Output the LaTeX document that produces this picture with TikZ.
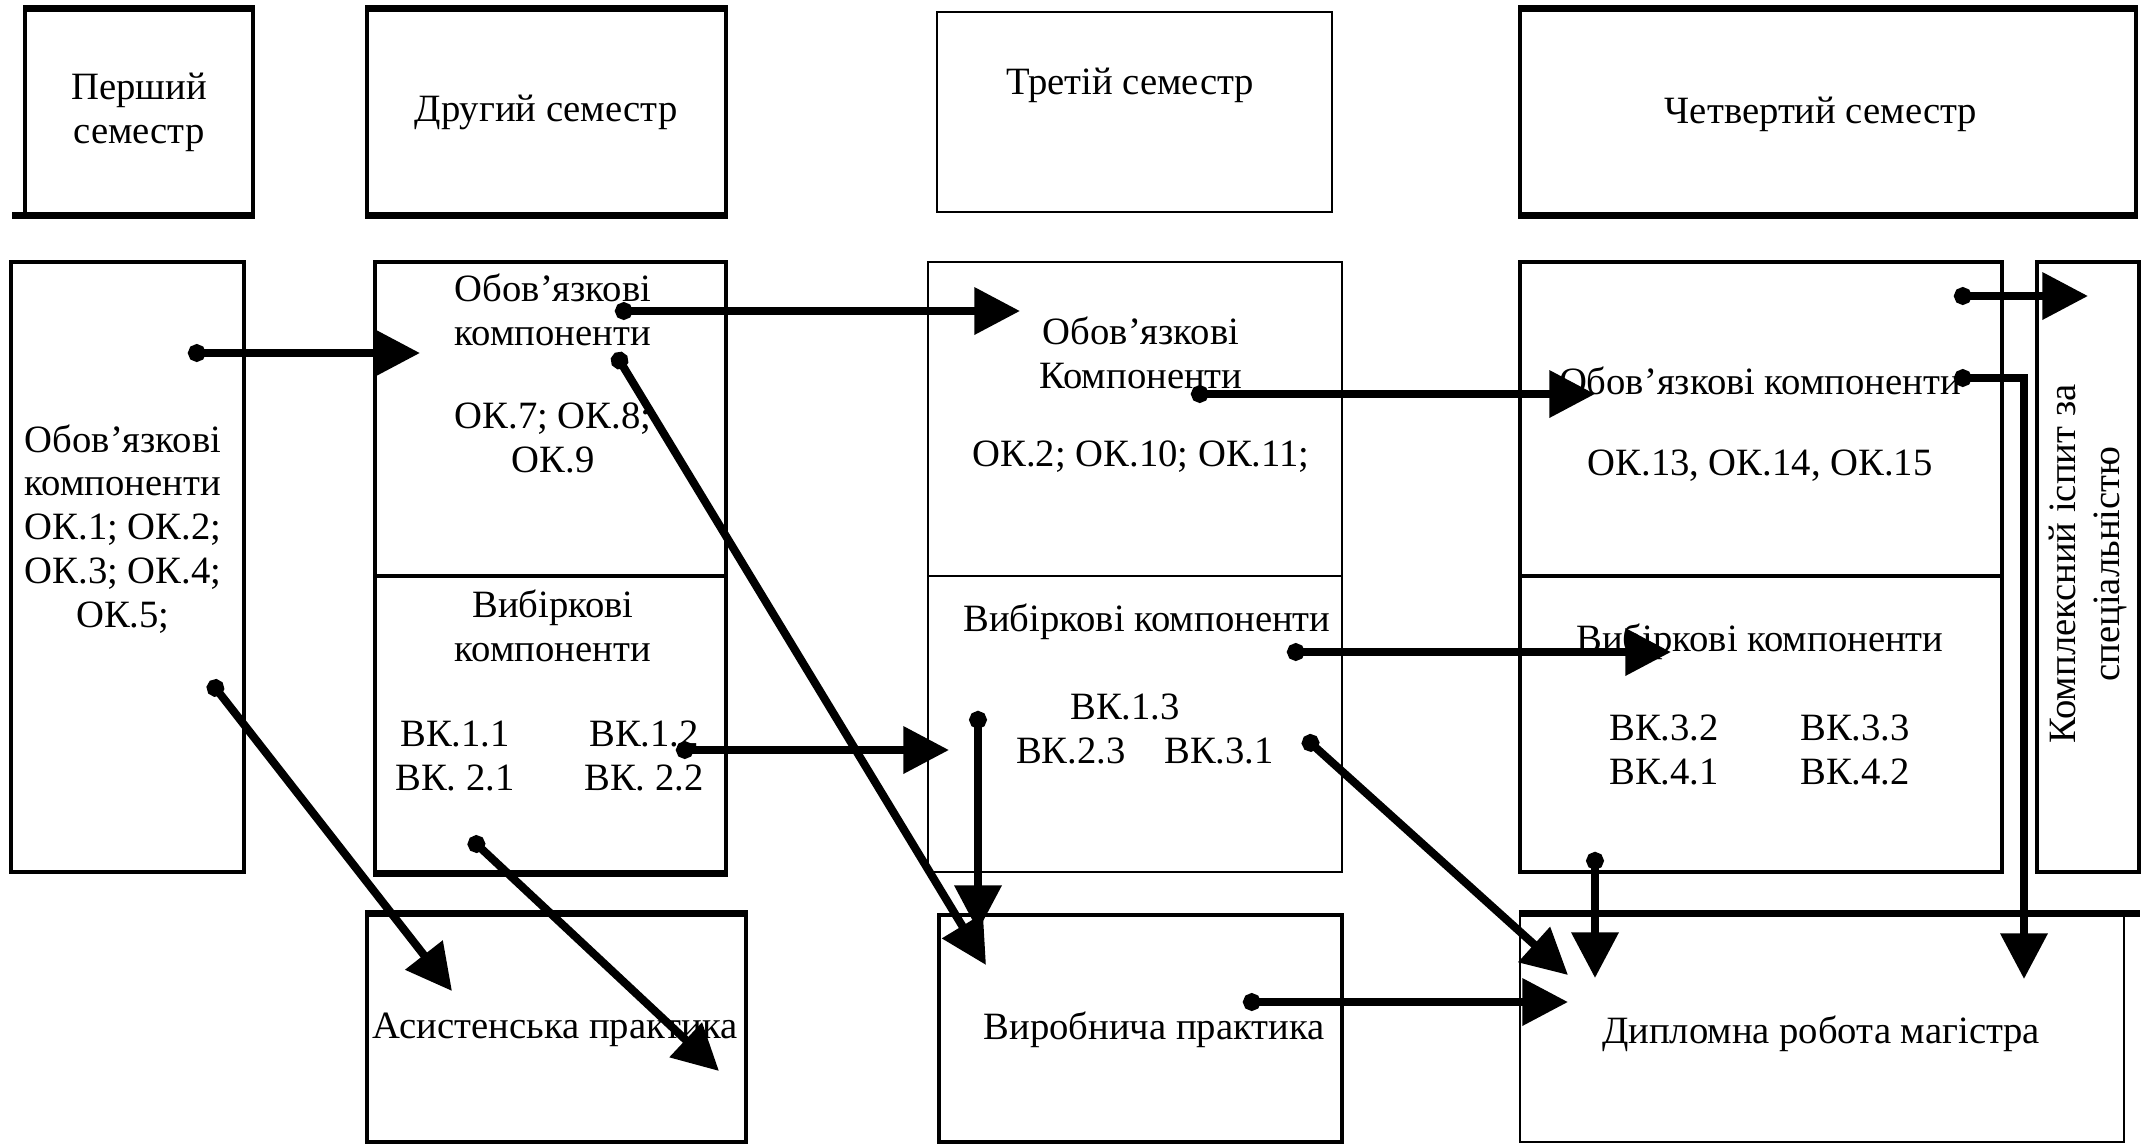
\documentclass[tikz,border=0pt]{standalone}
\usepackage{fontspec}
\setmainfont{Liberation Serif}
\usetikzlibrary{arrows.meta}
\tikzset{>=latex}

\begin{document}
\begin{tikzpicture}[
  box/.style={draw, line width=1.1pt, inner sep=0pt},
  thinbox/.style={draw, line width=0.6pt, inner sep=0pt},
  rim/.style={line width=2pt},
  txt/.style={align=center, inner sep=0pt, font=\fontsize{11}{12.5}\selectfont},
  conn/.style={line width=2.3pt, {Circle[length=5pt]}-{Triangle[length=13pt,width=13pt]}}
]
\useasboundingbox (0,0) rectangle (21.47,-11.45);

% semesters
\node[box, minimum width=2.28cm, minimum height=2.04cm] (sem1) at (1.39,-1.12) {};
\node[box, minimum width=3.59cm, minimum height=2.04cm] (sem2) at (5.465,-1.12) {};
\node[thinbox, minimum width=3.95cm, minimum height=2.00cm] (sem3) at (11.345,-1.12) {};
\node[box, minimum width=6.16cm, minimum height=2.04cm] (sem4) at (18.28,-1.12) {};
\draw[rim] (sem1.north west) -- (sem1.north east);
\draw[rim] ([xshift=-1.1mm]sem1.south west) -- (sem1.south east);
\draw[rim] (sem2.north west) -- (sem2.north east);
\draw[rim] (sem2.south west) -- (sem2.south east);
\draw[rim] (sem4.north west) -- (sem4.north east);
\draw[rim] (sem4.south west) -- (sem4.south east);
\node[txt] (sem1txt) at (1.39,-1.12) {Перший\\семестр};
\node[txt] (sem2txt) at (5.46,-1.12) {Другий семестр};
\node[txt] (sem3txt) at (11.30,-0.85) {Третій семестр};
\node[txt] (sem4txt) at (18.21,-1.14) {Четвертий семестр};

% components
\node[box, minimum width=2.33cm, minimum height=6.10cm] (comp1) at (1.275,-5.67) {};
\node[box, minimum width=3.51cm, minimum height=3.14cm] (ok2) at (5.505,-4.19) {};
\node[box, minimum width=3.51cm, minimum height=2.96cm] (vk2) at (5.505,-7.24) {};
\node[thinbox, minimum width=4.14cm, minimum height=3.14cm] (ok3) at (11.35,-4.19) {};
\node[thinbox, minimum width=4.14cm, minimum height=2.96cm] (vk3) at (11.35,-7.24) {};
\node[box, minimum width=4.82cm, minimum height=3.14cm] (ok4) at (17.61,-4.19) {};
\node[box, minimum width=4.82cm, minimum height=2.96cm] (vk4) at (17.61,-7.24) {};
\node[box, minimum width=1.02cm, minimum height=6.10cm] (exam) at (20.88,-5.67) {};
\draw[rim] (vk2.south west) -- (vk2.south east);

\node[txt] (comp1txt) at (1.23,-5.29) {Обов’язкові\\компоненти\\ОК.1; ОК.2;\\ОК.3; ОК.4;\\ОК.5;};
\node[txt] (ok2head) at (5.53,-3.10) {Обов’язкові\\компоненти};
\node[txt] (ok2list) at (5.53,-4.38) {ОК.7; ОК.8;\\ОК.9};
\node[txt] (vk2head) at (5.53,-6.26) {Вибіркові\\компоненти};
\node[txt] (vk2left) at (4.55,-7.56) {ВК.1.1\\ВК. 2.1};
\node[txt] (vk2right) at (6.44,-7.56) {ВК.1.2\\ВК. 2.2};
\node[txt] (ok3head) at (11.41,-3.53) {Обов’язкові\\Компоненти};
\node[txt] (ok3list) at (11.41,-4.57) {ОК.2; ОК.10; ОК.11;};
\node[txt] (vk3head) at (11.47,-6.22) {Вибіркові компоненти};
\node[txt] (vk3list) at (11.45,-7.29) {\hspace*{-4mm}ВК.1.3\\ВК.2.3\quad ВК.3.1};
\node[txt] (ok4head) at (17.60,-3.81) {Обов’язкові компоненти};
\node[txt] (ok4list) at (17.60,-4.66) {ОК.13, ОК.14, ОК.15};
\node[txt] (vk4head) at (17.60,-6.42) {Вибіркові компоненти};
\node[txt] (vk4left) at (16.64,-7.50) {ВК.3.2\\ВК.4.1};
\node[txt] (vk4right) at (18.55,-7.50) {ВК.3.3\\ВК.4.2};
\node[txt, rotate=90] (examtxt) at (20.88,-5.64) {Комплексний іспит за\\спеціальністю};

% practice and thesis
\node[box, minimum width=3.79cm, minimum height=2.27cm] (prac1) at (5.565,-10.285) {};
\node[box, minimum width=4.03cm, minimum height=2.27cm] (prac2) at (11.405,-10.285) {};
\node[thinbox, minimum width=6.04cm, minimum height=2.27cm] (thesis) at (18.22,-10.285) {};
\draw[rim] (prac1.north west) -- (prac1.north east);
\draw[rim] (thesis.north west) -- ([xshift=1.5mm]thesis.north east);
\node[txt] (prac1txt) at (5.55,-10.30) {Асистенська практика};
\node[txt] (prac2txt) at (11.54,-10.30) {Виробнича практика};
\node[txt] (thesistxt) at (18.21,-10.34) {Дипломна робота магістра};

% arrow ends
\coordinate (c1a) at (1.88,-3.53);   \coordinate (c1b) at (4.20,-3.53);
\coordinate (c2a) at (6.15,-3.11);   \coordinate (c2b) at (10.20,-3.11);
\coordinate (c3a) at (6.15,-3.53);   \coordinate (c3b) at (9.86,-9.65);
\coordinate (c4a) at (11.91,-3.94);  \coordinate (c4b) at (15.95,-3.94);
\coordinate (c5a) at (19.54,-2.96);  \coordinate (c5b) at (20.88,-2.96);
\coordinate (c6a) at (19.54,-3.78);  \coordinate (c6b) at (20.24,-9.79);
\coordinate (c7a) at (12.87,-6.52);  \coordinate (c7b) at (16.71,-6.52);
\coordinate (c8a) at (6.76,-7.50);   \coordinate (c8b) at (9.49,-7.50);
\coordinate (c9a) at (9.78,-7.11);   \coordinate (c9b) at (9.78,-9.31);
\coordinate (c10a) at (13.04,-7.37); \coordinate (c10b) at (15.68,-9.75);
\coordinate (c11a) at (15.95,-8.52); \coordinate (c11b) at (15.95,-9.78);
\coordinate (c12a) at (12.43,-10.02);\coordinate (c12b) at (15.68,-10.02);
\coordinate (c13a) at (2.10,-6.81);  \coordinate (c13b) at (4.52,-9.91);
\coordinate (c14a) at (4.70,-8.38);  \coordinate (c14b) at (7.19,-10.71);

\foreach \i in {1,2,3,4,5,7,8,9,10,11,12,13,14}
  \draw[conn] (c\i a) -- (c\i b);
\draw[conn] (c6a) -| (c6b);
\end{tikzpicture}
\end{document}
